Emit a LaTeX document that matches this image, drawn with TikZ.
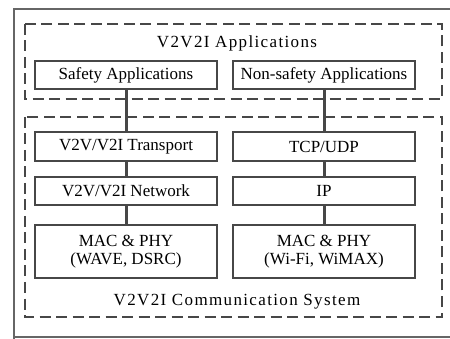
\documentclass[tikz,border=0pt]{standalone}
\usepackage{fontspec}
\setmainfont{Liberation Serif}
\newfontfamily\spacedserif[LetterSpace=8]{Liberation Serif}
\begin{document}
\begin{tikzpicture}[x=1pt,y=-1pt,
  layer/.style={draw=black!72,line width=2pt,fill=white,inner sep=0pt,font=\fontsize{17}{17.5}\selectfont},
  group/.style={draw=black!72,line width=2pt,dash pattern=on 11pt off 5.5pt},
  title/.style={font=\spacedserif\fontsize{17}{18}\selectfont},
  link/.style={draw=black!72,line width=3pt}]
\useasboundingbox (0,0) rectangle (450,339);
% outer frame
\draw[black!60,line width=1.6pt] (14,339) -- (14,9) -- (452,9);
\draw[black!60,line width=1.6pt] (14,337) -- (452,337);
% dashed groups
\draw[group] (25,24) rectangle (442,99);
\draw[group] (25,117) rectangle (442,317);
\node[title] (apps) at (237,43) {V2V2I Applications};
\node[title] (comm) at (237,302) {V2V2I Communication System};
% left stack
\node[layer,minimum width=182pt,minimum height=28pt] (safe) at (126,75) {Safety Applications};
\node[layer,minimum width=182pt,minimum height=29pt] (vtr) at (126,146.5) {V2V/V2I Transport};
\node[layer,minimum width=182pt,minimum height=28pt] (vnet) at (126,191) {V2V/V2I Network};
\node[layer,minimum width=182pt,minimum height=53pt,align=center] (vmac) at (126,251.5) {MAC \& PHY\\(WAVE, DSRC)};
% right stack
\node[layer,minimum width=182pt,minimum height=28pt] (nsafe) at (324,75) {Non-safety Applications};
\node[layer,minimum width=182pt,minimum height=29pt] (tcp) at (324,146.5) {TCP/UDP};
\node[layer,minimum width=182pt,minimum height=28pt] (ip) at (324,191) {IP};
\node[layer,minimum width=182pt,minimum height=53pt,align=center] (wmac) at (324,251.5) {MAC \& PHY\\(Wi-Fi, WiMAX)};
% connectors between layers
\draw[link] (safe.south) -- (vtr.north);
\draw[link] (vtr.south) -- (vnet.north);
\draw[link] (vnet.south) -- (vmac.north);
\draw[link] (nsafe.south) -- (tcp.north);
\draw[link] (tcp.south) -- (ip.north);
\draw[link] (ip.south) -- (wmac.north);
\end{tikzpicture}
\end{document}
